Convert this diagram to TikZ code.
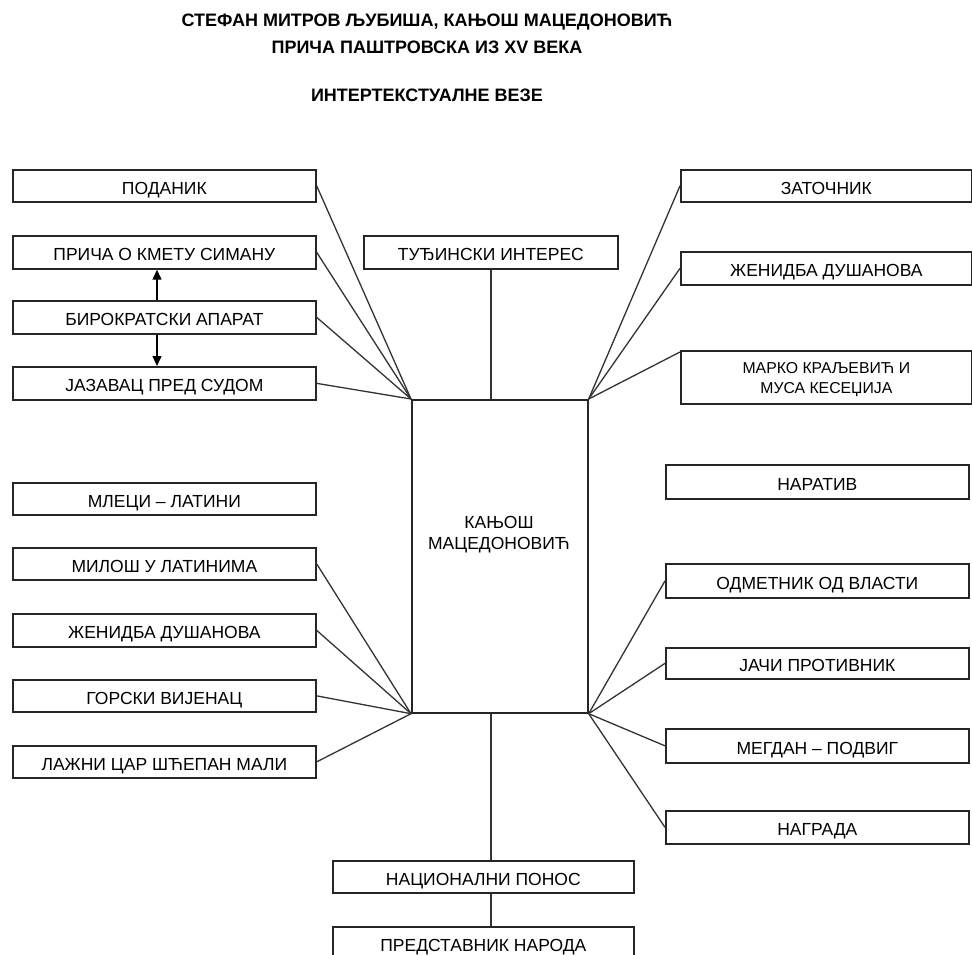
\documentclass[tikz,border=0pt]{standalone}
\usepackage{fontspec}
\setmainfont{Liberation Sans}
\usetikzlibrary{arrows.meta}
\begin{document}
\begin{tikzpicture}[x=1pt,y=-1pt,
  box/.style={draw=black!85, line width=1.7pt, anchor=north west, inner sep=0pt,
    minimum height=33pt, align=center, font=\fontsize{17.5}{21}\selectfont},
  onel/.style={text height=16.5pt, text depth=0pt},
  lbox/.style={box, onel, minimum width=303pt},
  rbox/.style={box, onel, minimum width=291pt},
  r2box/.style={box, onel, minimum width=303pt},
  link/.style={draw=black!80, line width=1.3pt},
  arr/.style={draw=black, line width=1.4pt, -{Triangle[length=10pt,width=9pt]}},
  ttl/.style={font=\fontsize{18}{21}\bfseries\selectfont, inner sep=0pt}
]
\useasboundingbox (0,0) rectangle (972,955);
\fill[white] (0,0) rectangle (972,955);

% title
\node[ttl] (t1) at (427,22) {СТЕФАН МИТРОВ ЉУБИША, КАЊОШ МАЦЕДОНОВИЋ};
\node[ttl] (t2) at (427,47) {ПРИЧА ПАШТРОВСКА ИЗ XV ВЕКА};
\node[ttl] (t3) at (427,95) {ИНТЕРТЕКСТУАЛНЕ ВЕЗЕ};

% central box
\node[box, minimum width=176pt, minimum height=313pt] (c) at (411,399) {};
\node[inner sep=0pt, align=center, font=\fontsize{17.5}{21}\selectfont] (ct) at (499,535) {КАЊОШ\\МАЦЕДОНОВИЋ};

% left top
\node[lbox, minimum height=32pt] (l1) at (12,169) {ПОДАНИК};
\node[lbox] (l2) at (12,235) {ПРИЧА О КМЕТУ СИМАНУ};
\node[lbox] (l3) at (12,300) {БИРОКРАТСКИ АПАРАТ};
\node[lbox] (l4) at (12,366) {ЈАЗАВАЦ ПРЕД СУДОМ};

% left bottom
\node[lbox, minimum height=32pt] (l5) at (12,482) {МЛЕЦИ – ЛАТИНИ};
\node[lbox, minimum height=32pt] (l6) at (12,547) {МИЛОШ У ЛАТИНИМА};
\node[lbox] (l7) at (12,613) {ЖЕНИДБА ДУШАНОВА};
\node[lbox, minimum height=32pt] (l8) at (12,679) {ГОРСКИ ВИЈЕНАЦ};
\node[lbox, minimum height=32pt] (l9) at (12,745) {ЛАЖНИ ЦАР ШЋЕПАН МАЛИ};

% top middle
\node[box, onel, minimum width=254pt] (tu) at (363,235) {ТУЂИНСКИ ИНТЕРЕС};

% right top
\node[rbox, minimum height=32pt] (r1) at (680,169) {ЗАТОЧНИК};
\node[rbox] (r2) at (680,251) {ЖЕНИДБА ДУШАНОВА};
\node[box, minimum width=291pt, minimum height=53pt, font=\fontsize{15.8}{20}\selectfont] (r3) at (680,350) {\rule{0pt}{15pt}МАРКО КРАЉЕВИЋ И\\МУСА КЕСЕЏИЈА};

% right bottom
\node[r2box, minimum height=34pt] (r4) at (665,464) {НАРАТИВ};
\node[r2box, minimum height=34pt] (r5) at (665,563) {ОДМЕТНИК ОД ВЛАСТИ};
\node[r2box, minimum height=31pt] (r6) at (665,647) {ЈАЧИ ПРОТИВНИК};
\node[r2box, minimum height=34pt] (r7) at (665,728) {МЕГДАН – ПОДВИГ};
\node[r2box, minimum height=33pt] (r8) at (665,810) {НАГРАДА};

% bottom
\node[box, onel, minimum width=301pt, minimum height=32pt] (b1) at (332,860) {НАЦИОНАЛНИ ПОНОС};
\node[box, onel, minimum width=301pt] (b2) at (332,926) {ПРЕДСТАВНИК НАРОДА};

% connectors
\foreach \n in {l1,l2,l3,l4} \draw[link] (\n.east) -- (c.north west);
\foreach \n in {l6,l7,l8,l9} \draw[link] (\n.east) -- (c.south west);
\draw[link] (c.north east) -- (r1.west);
\draw[link] (c.north east) -- (r2.west);
\draw[link] (c.north east) -- ([yshift=-2pt]r3.north west);
\foreach \n in {r5,r6,r7,r8} \draw[link] (c.south east) -- (\n.west);

\coordinate (tx) at (491,0);
\draw[link] (tu.south -| tx) -- (tx |- c.north);
\draw[link] (tx |- c.south) -- (tx |- b1.north);
\draw[link] (tx |- b1.south) -- (tx |- b2.north);

\coordinate (ax) at (157,0);
\draw[arr] (ax |- l3.north) -- (ax |- l2.south);
\draw[arr] (ax |- l3.south) -- (ax |- l4.north);
\end{tikzpicture}
\end{document}
